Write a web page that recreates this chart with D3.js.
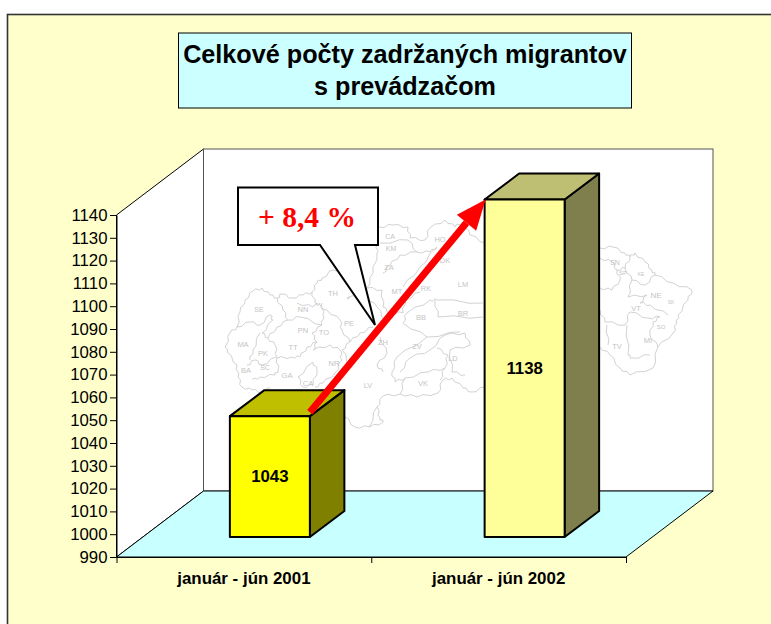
<!DOCTYPE html>
<html><head><meta charset="utf-8">
<script src="https://cdn.jsdelivr.net/npm/d3@7"></script>
<style>html,body{margin:0;padding:0;background:#fff}svg{display:block}</style>
</head><body><div id="c"></div>
<script>
const categories = ["január - jún 2001", "január - jún 2002"];
const values = [1043, 1138];
const yTicks = [990,1000,1010,1020,1030,1040,1050,1060,1070,1080,1090,1100,1110,1120,1130,1140];
const titleLines = ["Celkové počty zadržaných migrantov", "s prevádzačom"];
const calloutText = "+ 8,4 %";
const barFill = ["#FFFF00", "#FFFF99"];
const barTop = ["#BFBF00", "#BFBF73"];
const barSide = ["#7F7F00", "#7F7F4D"];

// Faint background map of Slovakia (decorative tracing of the picture)
const mapLines = [
 "226,345 230,333 237,327 240,312 245,300 253,291 262,288 270,295 277,298 282,294 292,298 303,295 312,292 317,283 322,278 333,270 345,277",
 "226,345 227,352 237,365 238,377 242,387 252,390 262,392 270,388",
 "379,227 393,225 408,227 410,238 425,240 430,228 445,220 455,227 462,222 470,235 485,243",
 "600,248 613,247 625,253 630,257 635,253 645,262 652,270 655,275 673,283 692,290 688,300 678,315 677,323 673,333 658,347 653,368 630,375 620,368 610,355 600,347",
 "485,387 472,392 463,388 452,378 443,380 438,393 417,397 400,394 383,396 377,407 380,418 383,422 370,427 355,427 345,417",
 "237,327 250,322 260,325 270,315 273,320 262,333 268,338 275,345 277,357 262,365 255,360 247,365",
 "260,333 253,350 250,360",
 "277,298 283,310 288,320 277,327 268,338",
 "288,320 300,317 322,325 312,333 317,342 307,347 300,357 292,357 277,358 278,370 275,375 260,377 252,380",
 "322,303 323,315 322,325",
 "297,303 313,307 320,303",
 "312,292 315,303 327,310 340,320 342,330 350,342 360,333 373,327",
 "317,342 313,350 330,345 340,350 342,360 335,373 323,383 315,387",
 "313,362 298,377 303,387 313,385 317,370 313,362",
 "350,342 342,350 350,365 345,372",
 "350,298 347,298 363,295 377,307 385,320",
 "377,245 377,253 373,273 367,288 382,290 383,307 390,313 403,313 405,300 420,292",
 "380,243 408,240 417,252 400,255 390,265 383,273",
 "417,252 430,252 437,247 420,267 403,287",
 "403,323 407,313 430,300 437,300 483,303",
 "435,300 438,317 483,317",
 "403,323 427,337 397,357 392,372",
 "380,337 387,353 377,365 383,372",
 "400,372 410,358 430,350 445,335 465,333 470,345 450,350 452,372 465,375",
 "427,337 460,332",
 "392,372 395,382 405,378 428,372 445,368 440,380",
 "405,378 400,394",
 "445,368 448,355 437,348",
 "600,258 612,262 617,270 625,268 630,257",
 "625,268 632,280 645,285 655,275",
 "617,270 620,280 612,290 600,288",
 "632,280 628,297 647,295 640,303 650,305 668,315",
 "600,310 605,322 625,325 630,312 648,318 660,317",
 "627,325 628,355 632,358 650,355",
 "658,347 650,335 653,322 660,317",
 "607,325 608,345",
 "369,427 377,407"
];
const mapLabels = [
 ["MA",243,344,7.5],["PK",263,353,7.5],["BA",246,370,7.5],["SC",265,368,7],["GA",287,375,7.5],["TT",293,347,7.5],
 ["PN",303,330,7.5],["NN",303,309,7.5],["TH",333,293,7.5],["PE",349,323,7.5],["TO",324,332,7.5],["NR",334,363,7.5],
 ["CA",308,383,7.5],["LV",368,385,7.5],["ZH",383,342,7.5],["ZV",417,346,7.5],["VK",423,383,7.5],["LD",453,358,7.5],
 ["BB",421,317,7.5],["RK",426,288,7.5],["MT",397,291,7.5],["ZA",389,267,7.5],["LM",463,284,7.5],["BR",463,313,7.5],
 ["DK",445,260,7.5],["HO",440,239,7.5],["CA",390,237,7],["KM",391,249,7],["SE",259,310,7],["VT",636,308,7.5],
 ["TV",617,346,7.5],["MI",648,340,7.5],["NE",656,295,8],["SN",615,263,7],["SO",661,327,6],["SP",623,273,6],["KE",641,274,5],["SK",671,302,5]
];

const W = 771, H = 624;
const svg = d3.select("#c").append("svg").attr("width", W).attr("height", H);
const poly = p => p.map(d => d.join(",")).join(" ");

// frame
svg.append("rect").attr("x", 7.5).attr("y", 14.5).attr("width", W).attr("height", H)
  .attr("fill", "#FFFFCC").attr("stroke", "#333").attr("stroke-width", 1.6);

// scales
const plot = {l: 116.5, r: 626, t: 215, b: 557};
const wall = {dx: 87, dy: -66};
const barOff = {dx: 26, dy: -20};
const barDepth = {dx: 34.5, dy: -26};
const barW = 80;
const x = d3.scaleBand().domain(categories).range([plot.l, plot.r]);
const y = d3.scaleLinear().domain([990, 1140]).range([plot.b, plot.t]);

// title
svg.append("rect").attr("x", 178.5).attr("y", 33).attr("width", 453).attr("height", 75)
  .attr("fill", "#CCFFFF").attr("stroke", "#000").attr("stroke-width", 1);
svg.append("g").selectAll("text").data(titleLines).join("text")
  .attr("x", 405).attr("y", (d, i) => 62.5 + i * 32)
  .attr("text-anchor", "middle").attr("font-family", "Liberation Sans, Arial, sans-serif")
  .attr("font-weight", "bold").attr("font-size", 25.2).attr("fill", "#000").text(d => d);

// walls and floor
svg.append("polygon").attr("points", poly([[plot.l,plot.b],[plot.l,plot.t],[plot.l+wall.dx,plot.t+wall.dy],[plot.l+wall.dx,plot.b+wall.dy]]))
  .attr("fill", "#fff").attr("stroke", "#000").attr("stroke-width", 1);
svg.append("rect").attr("x", plot.l+wall.dx).attr("y", plot.t+wall.dy)
  .attr("width", plot.r-plot.l).attr("height", plot.b-plot.t)
  .attr("fill", "#fff").attr("stroke", "#555").attr("stroke-width", 1);
svg.append("polygon").attr("points", poly([[plot.l,plot.b],[plot.r,plot.b],[plot.r+wall.dx,plot.b+wall.dy],[plot.l+wall.dx,plot.b+wall.dy]]))
  .attr("fill", "#C8FFFF").attr("stroke", "#000").attr("stroke-width", 1);

// map: each traced segment gets a small alternating kink, as hand-drawn borders have
const roughen = s => {
  const p = s.split(" ").map(q => q.split(",").map(Number));
  const out = [p[0]];
  for (let i = 1; i < p.length; i++) {
    const [a, b] = [p[i-1], p[i]];
    const dx = b[0]-a[0], dy = b[1]-a[1], len = Math.hypot(dx, dy) || 1;
    const sign = i % 2 ? 1 : -1;
    out.push([a[0]+dx*0.35-dy/len*sign*1.2, a[1]+dy*0.35+dx/len*sign*1.2]);
    out.push([a[0]+dx*0.7+dy/len*sign*1.2, a[1]+dy*0.7-dx/len*sign*1.2]);
    out.push(b);
  }
  return poly(out);
};
const mapG = svg.append("g");
mapG.selectAll("polyline").data(mapLines).join("polyline")
  .attr("points", roughen).attr("fill", "none").attr("stroke", "#d2d2d2").attr("stroke-width", 1);
mapG.selectAll("text").data(mapLabels).join("text")
  .attr("x", d => d[1]).attr("y", d => d[2]).attr("dy", "0.35em").attr("text-anchor", "middle")
  .attr("font-family", "Liberation Sans, Arial, sans-serif").attr("font-size", d => d[3])
  .attr("fill", "#c4c4c4").text(d => d[0]);

// axes
const axFont = g => g.attr("font-family", "Liberation Sans, Arial, sans-serif");
const yAxis = svg.append("g").attr("transform", `translate(${plot.l},0)`)
  .call(d3.axisLeft(y).tickValues(yTicks).tickFormat(d3.format("d")).tickSize(6.5).tickPadding(2.5).tickSizeOuter(0))
  .call(axFont);
yAxis.selectAll("text").attr("font-size", 16.8).attr("fill", "#000");
yAxis.selectAll("line,path").attr("stroke", "#000");

const xEdge = d3.scaleLinear().domain([0, 2]).range([plot.l, plot.r]);
const xAxis = svg.append("g").attr("transform", `translate(0,${plot.b})`)
  .call(d3.axisBottom(xEdge).tickValues([0,1,2]).tickFormat("").tickSize(6).tickSizeOuter(0));
xAxis.selectAll("line,path").attr("stroke", "#000");
const xLab = svg.append("g").attr("transform", `translate(0,${plot.b})`)
  .call(d3.axisBottom(x).tickSize(0).tickPadding(15)).call(axFont);
xLab.select("path").remove();
xLab.selectAll("text").attr("font-size", 16.9).attr("font-weight", "bold").attr("fill", "#000");

// bars
const bx = d => x(d) + x.bandwidth()/2 - barW/2 + barOff.dx;
const bars = svg.append("g").selectAll("g").data(categories.map((c,i)=>({c, v: values[i], i}))).join("g");
const edge = {stroke:"#000","stroke-width":2,"stroke-linejoin":"round"};
const styled = (s) => { Object.entries(edge).forEach(([k,v])=>s.attr(k,v)); return s; };
styled(bars.append("polygon").attr("points", d => { const X=bx(d.c)+barW, T=y(d.v)+barOff.dy, B=y(990)+barOff.dy;
  return poly([[X,T],[X+barDepth.dx,T+barDepth.dy],[X+barDepth.dx,B+barDepth.dy],[X,B]]); }).attr("fill", d=>barSide[d.i]));
styled(bars.append("polygon").attr("points", d => { const X=bx(d.c), T=y(d.v)+barOff.dy;
  return poly([[X,T],[X+barDepth.dx,T+barDepth.dy],[X+barW+barDepth.dx,T+barDepth.dy],[X+barW,T]]); }).attr("fill", d=>barTop[d.i]));
styled(bars.append("rect").attr("x", d=>bx(d.c)).attr("y", d=>y(d.v)+barOff.dy).attr("width", barW)
  .attr("height", d=>y(990)-y(d.v)).attr("fill", d=>barFill[d.i]));
bars.append("text").attr("x", d=>bx(d.c)+barW/2).attr("y", d=>(y(d.v)+y(990))/2+barOff.dy).attr("dy","0.35em")
  .attr("text-anchor","middle").attr("font-family","Liberation Sans, Arial, sans-serif")
  .attr("font-weight","bold").attr("font-size",16.8).attr("fill","#000").text(d=>d.v);

// callout
svg.append("polygon").attr("points", poly([[238,187.5],[378,187.5],[378,245],[355,245],[375,325],[320,245],[238,245]]))
  .attr("fill","#fff").attr("stroke","#000").attr("stroke-width",2);
svg.append("text").attr("x",307).attr("y",227).attr("text-anchor","middle")
  .attr("font-family","Liberation Serif, Times New Roman, serif").attr("font-weight","bold")
  .attr("font-size",29.5).attr("fill","#FF0000").text(calloutText);

// arrow from top of the first bar to top of the second
const ax0 = bx(categories[0]) + barW, ay0 = y(values[0]) + barOff.dy - 4;
const ax1 = bx(categories[1]) + 1, ay1 = y(values[1]) + barOff.dy;
const ang = Math.atan2(ay1-ay0, ax1-ax0), headL = 30, headW = 12.5;
const bxh = ax1 - headL*Math.cos(ang), byh = ay1 - headL*Math.sin(ang);
const nx = -Math.sin(ang), ny = Math.cos(ang);
svg.append("line").attr("x1",ax0).attr("y1",ay0).attr("x2",bxh).attr("y2",byh)
  .attr("stroke","#FF0000").attr("stroke-width",7);
svg.append("polygon").attr("points", poly([[ax1,ay1],[bxh+nx*headW,byh+ny*headW],[bxh-nx*headW,byh-ny*headW]])).attr("fill","#FF0000");
</script></body></html>
